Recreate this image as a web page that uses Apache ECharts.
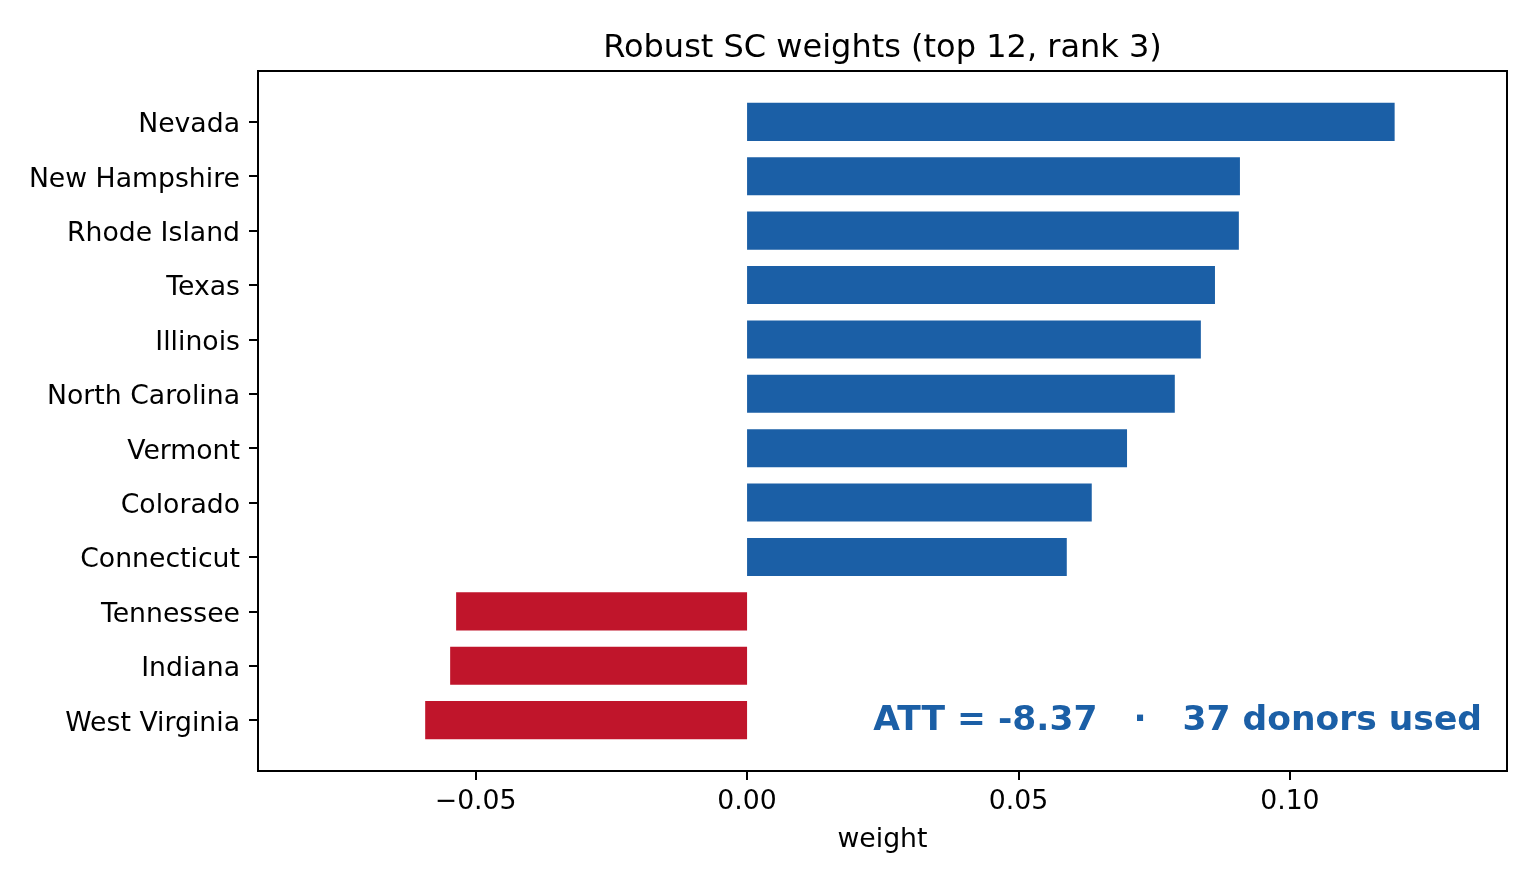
<!DOCTYPE html>
<html>
<head>
<meta charset="utf-8">
<script src="https://cdn.jsdelivr.net/npm/echarts@6/dist/echarts.min.js"></script>
<style>
  html, body { margin: 0; padding: 0; background: #fff; }
  #chart { width: 1536px; height: 883px; }
</style>
</head>
<body>
<div id="chart"></div>
<script>
const states = ['Nevada', 'New Hampshire', 'Rhode Island', 'Texas', 'Illinois', 'North Carolina',
  'Vermont', 'Colorado', 'Connecticut', 'Tennessee', 'Indiana', 'West Virginia']
const weights = [0.1193, 0.0908, 0.0906, 0.0862, 0.0836, 0.0788,
  0.0700, 0.0635, 0.0589, -0.0536, -0.0547, -0.0593]
const xTicks = [-0.05, 0, 0.05, 0.10]

const posColor = '#1b5fa6'
const negColor = '#c0152b'
const fontFamily = 'DejaVu Sans'

const chart = echarts.init(document.getElementById('chart'))

// matplotlib pads category axis by 0.935 band on each side
const frame = { left: 258, top: 71, width: 1249, height: 700 }
const band = frame.height / 12.87
const inner = frame.top + 0.935 * band - band / 2

const option = {
  animation: false,
  backgroundColor: '#fff',
  grid: [
    { left: frame.left, top: frame.top, width: frame.width, height: frame.height,
      show: true, borderColor: '#000', borderWidth: 2, backgroundColor: 'transparent' },
    { left: frame.left, top: inner, width: frame.width, height: band * 12 }
  ],
  xAxis: [
    { gridIndex: 0, type: 'value', show: false },
    {
      gridIndex: 1,
      type: 'value',
      min: -0.0901,
      max: 0.14,
      position: 'bottom',
      offset: frame.top + frame.height - (inner + band * 12),
      axisLine: { show: false, onZero: false },
      splitLine: { show: false },
      axisTick: { show: true, length: 9, customValues: xTicks, lineStyle: { color: '#000', width: 2 } },
      axisLabel: {
        customValues: xTicks,
        margin: 18,
        color: '#000',
        fontSize: 26.7,
        fontFamily: fontFamily,
        formatter: v => (v < 0 ? '\u2212' : '') + Math.abs(v).toFixed(2)
      },
      name: 'weight',
      nameLocation: 'middle',
      nameGap: 56,
      nameTextStyle: { color: '#000', fontSize: 26.7, fontFamily: fontFamily }
    }
  ],
  yAxis: [
    { gridIndex: 0, type: 'value', show: false },
    {
      gridIndex: 1,
      type: 'category',
      inverse: true,
      position: 'left',
      data: states,
      axisLine: { show: false, onZero: false },
      axisTick: { show: true, alignWithLabel: true, length: 9, lineStyle: { color: '#000', width: 2 } },
      axisLabel: {
        margin: 18,
        formatter: v => '{s|' + v + '}',
        rich: { s: { padding: [7, 0, 0, 0], color: '#000', fontSize: 26.7, fontFamily: fontFamily } }
      }
    }
  ],
  series: [{
    type: 'bar',
    xAxisIndex: 1,
    yAxisIndex: 1,
    barWidth: '70%',
    data: weights.map(w => ({ value: w, itemStyle: { color: w >= 0 ? posColor : negColor } }))
  }],
  graphic: [
    {
      type: 'text',
      x: frame.left + frame.width / 2,
      y: 49,
      style: {
        text: 'Robust SC weights (top 12, rank 3)',
        fill: '#000',
        font: '32px "DejaVu Sans"',
        textAlign: 'center',
        textVerticalAlign: 'middle'
      }
    },
    {
      type: 'text',
      x: 1482,
      y: 721,
      style: {
        text: 'ATT = -8.37   \u00b7   37 donors used',
        fill: posColor,
        font: 'bold 34.5px "DejaVu Sans"',
        textAlign: 'right',
        textVerticalAlign: 'middle'
      }
    }
  ]
}

chart.setOption(option)
</script>
</body>
</html>
